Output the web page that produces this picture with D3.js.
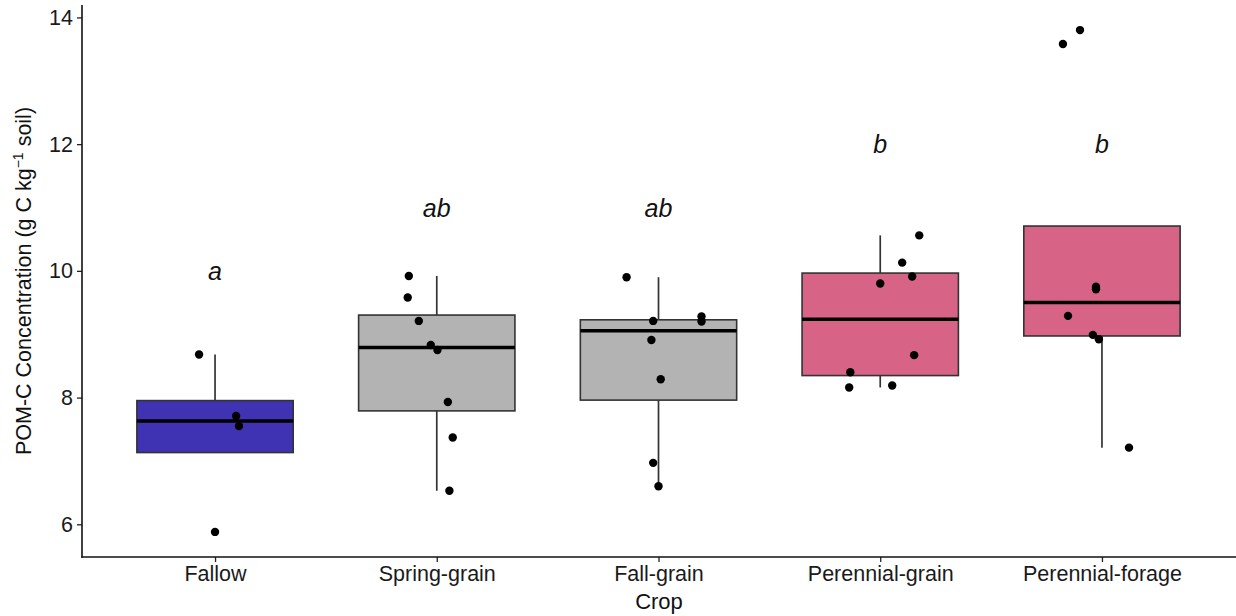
<!DOCTYPE html>
<html>
<head>
<meta charset="utf-8">
<script src="https://cdn.jsdelivr.net/npm/d3@7"></script>
<style>
  html, body { margin: 0; padding: 0; background: #fff; }
  svg { display: block; font-family: "Liberation Sans", Arial, sans-serif; }
</style>
</head>
<body>
<svg id="chart" width="1236" height="616"></svg>
<script>
// ---- data ----
const categories = ["Fallow", "Spring-grain", "Fall-grain", "Perennial-grain", "Perennial-forage"];
const fallowValues = [8.68, 7.71, 7.55, 5.88];
const springGrainValues = [9.92, 9.58, 9.21, 8.83, 8.75, 7.93, 7.37, 6.53];
const fallGrainValues = [9.90, 9.21, 9.28, 9.20, 8.91, 8.29, 6.97, 6.60];
const perennialGrainValues = [10.56, 10.13, 9.91, 9.80, 8.67, 8.40, 8.16, 8.19];
const perennialForageValues = [13.80, 13.58, 9.75, 9.71, 9.29, 8.99, 8.92, 7.21];
// horizontal jitter (fraction of category step)
const fallowJitter = [-0.072, 0.095, 0.108, 0.0];
const springGrainJitter = [-0.126, -0.131, -0.081, -0.027, 0.003, 0.050, 0.072, 0.057];
const fallGrainJitter = [-0.144, -0.024, 0.194, 0.194, -0.032, 0.010, -0.024, 0.0];
const perennialGrainJitter = [0.176, 0.099, 0.144, 0.0, 0.153, -0.135, -0.140, 0.054];
const perennialForageJitter = [-0.099, -0.176, -0.027, -0.027, -0.153, -0.041, -0.014, 0.122];
const sigLetters = ["a", "ab", "ab", "b", "b"];
const sigLetterY = [10, 11, 11, 12, 12];
const fillColors = ["#3F33B3", "#B3B3B3", "#B3B3B3", "#D76487", "#D76487"];
const yTicks = [6, 8, 10, 12, 14];

const seriesValues = [fallowValues, springGrainValues, fallGrainValues, perennialGrainValues, perennialForageValues];
const seriesJitter = [fallowJitter, springGrainJitter, fallGrainJitter, perennialGrainJitter, perennialForageJitter];

// ---- layout ----
const svg = d3.select("#chart");
const pLeft = 82, pRight = 1235, pTop = 5, pBottom = 557;

const allVals = seriesValues.flat();
const vmin = d3.min(allVals), vmax = d3.max(allVals);
const pad = (vmax - vmin) * 0.05;
const y = d3.scaleLinear().domain([vmin - pad, vmax + pad]).range([pBottom, pTop]);
const x = d3.scalePoint().domain(categories).range([pLeft, pRight]).padding(0.6);
const step = x.step();
const boxW = step * 0.705;

// ---- stats (R type 7 quantiles, same as d3.quantile) ----
const stats = categories.map((c, i) => {
  const v = seriesValues[i].slice().sort(d3.ascending);
  const q1 = d3.quantile(v, 0.25), med = d3.quantile(v, 0.5), q3 = d3.quantile(v, 0.75);
  const iqr = q3 - q1;
  const inside = v.filter(d => d >= q1 - 1.5 * iqr && d <= q3 + 1.5 * iqr);
  return { cat: c, q1, med, q3, lo: d3.min(inside), hi: d3.max(inside), fill: fillColors[i] };
});

const g = svg.append("g");

// whiskers
g.selectAll("line.wu").data(stats).join("line")
  .attr("x1", d => x(d.cat)).attr("x2", d => x(d.cat))
  .attr("y1", d => y(Math.max(d.hi, d.q3))).attr("y2", d => y(d.q3))
  .attr("stroke", "#333").attr("stroke-width", 1.7);
g.selectAll("line.wl").data(stats).join("line")
  .attr("x1", d => x(d.cat)).attr("x2", d => x(d.cat))
  .attr("y1", d => y(Math.min(d.lo, d.q1))).attr("y2", d => y(d.q1))
  .attr("stroke", "#333").attr("stroke-width", 1.7);

// boxes
g.selectAll("rect.box").data(stats).join("rect")
  .attr("x", d => x(d.cat) - boxW / 2).attr("width", boxW)
  .attr("y", d => y(d.q3)).attr("height", d => y(d.q1) - y(d.q3))
  .attr("fill", d => d.fill).attr("stroke", "#333").attr("stroke-width", 1.6);

// medians
g.selectAll("line.med").data(stats).join("line")
  .attr("x1", d => x(d.cat) - boxW / 2).attr("x2", d => x(d.cat) + boxW / 2)
  .attr("y1", d => y(d.med)).attr("y2", d => y(d.med))
  .attr("stroke", "#000").attr("stroke-width", 3.5);

// points
const pts = [];
categories.forEach((c, i) => seriesValues[i].forEach((v, j) => pts.push({ cat: c, v, jit: seriesJitter[i][j] })));
g.selectAll("circle.pt").data(pts).join("circle")
  .attr("cx", d => x(d.cat) + d.jit * step)
  .attr("cy", d => y(d.v))
  .attr("r", 4.2).attr("fill", "#000");

// significance letters
g.selectAll("text.sig").data(categories).join("text")
  .attr("x", d => x(d))
  .attr("y", (d, i) => y(sigLetterY[i]))
  .attr("dy", "0.36em")
  .attr("text-anchor", "middle")
  .attr("font-style", "italic")
  .attr("font-size", 25)
  .attr("fill", "#111")
  .text((d, i) => sigLetters[i]);

// axes
const yAxis = svg.append("g").attr("transform", `translate(${pLeft},0)`)
  .call(d3.axisLeft(y).tickValues(yTicks).tickSize(5).tickPadding(4).tickFormat(d3.format("d")));
const xAxis = svg.append("g").attr("transform", `translate(0,${pBottom})`)
  .call(d3.axisBottom(x).tickSize(5).tickPadding(4));
[yAxis, xAxis].forEach(a => {
  a.select(".domain").remove();
  a.selectAll(".tick line").attr("stroke", "#222").attr("stroke-width", 1.3);
  a.selectAll(".tick text").attr("font-size", 21.5).attr("fill", "#1a1a1a")
    .attr("font-family", "Liberation Sans, Arial, sans-serif");
});
// axis lines
svg.append("line").attr("x1", pLeft).attr("x2", pLeft).attr("y1", pTop).attr("y2", pBottom + 0.75)
  .attr("stroke", "#111").attr("stroke-width", 1.6);
svg.append("line").attr("x1", pLeft - 0.75).attr("x2", 1236).attr("y1", pBottom).attr("y2", pBottom)
  .attr("stroke", "#111").attr("stroke-width", 1.6);

// axis titles
svg.append("text")
  .attr("x", (pLeft + 1236) / 2).attr("y", 609)
  .attr("text-anchor", "middle").attr("font-size", 22).attr("fill", "#111")
  .text("Crop");

const yt = svg.append("text")
  .attr("transform", `translate(31,${(pTop + pBottom) / 2}) rotate(-90)`)
  .attr("text-anchor", "middle").attr("font-size", 21.5).attr("fill", "#111");
yt.append("tspan").text("POM-C Concentration (g C kg");
yt.append("tspan").attr("dy", -8).attr("font-size", 14).text("\u22121");
yt.append("tspan").attr("dy", 8).text(" soil)");
</script>
</body>
</html>
